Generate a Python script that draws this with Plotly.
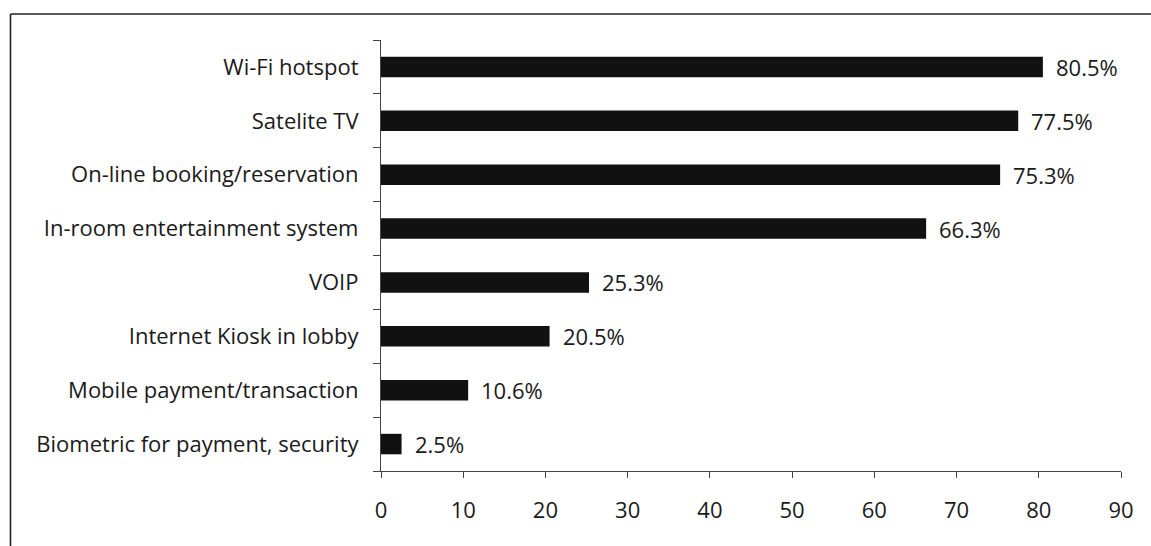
import plotly.graph_objects as go

# Survey results: share of hotels offering each technology (%)
categories = [
    "Wi-Fi hotspot",
    "Satelite TV",
    "On-line booking/reservation",
    "In-room entertainment system",
    "VOIP",
    "Internet Kiosk in lobby",
    "Mobile payment/transaction",
    "Biometric for payment, security",
]
values = [80.5, 77.5, 75.3, 66.3, 25.3, 20.5, 10.6, 2.5]
x_ticks = [0, 10, 20, 30, 40, 50, 60, 70, 80, 90]

W, H = 1151, 546
ML, MR, MT, MB = 381, 30, 40, 75
PW, PH = W - ML - MR, H - MT - MB

FONT = "Open Sans"
FS = 22
TXT = "#1a1a1a"

fig = go.Figure(
    go.Bar(
        x=values,
        y=categories,
        orientation="h",
        marker=dict(color="#111111", line=dict(width=0)),
        hoverinfo="skip",
    )
)

# value labels just to the right of each bar
for c, v in zip(categories, values):
    fig.add_annotation(
        x=v, y=c, text=f"{v:.1f}%", showarrow=False,
        xanchor="left", yanchor="middle", xshift=11,
        font=dict(family=FONT, size=FS, color=TXT),
    )

def px_x(p):
    return (p - ML) / PW

def px_y(p):
    return (H - MB - p) / PH

# frame lines on the left and top of the chart area
fig.add_shape(type="line", xref="paper", yref="paper",
              x0=px_x(10.5), x1=px_x(10.5), y0=px_y(14), y1=px_y(H + 2),
              line=dict(color="#222222", width=1.6))
fig.add_shape(type="line", xref="paper", yref="paper",
              x0=px_x(10.5), x1=px_x(W + 2), y0=px_y(14), y1=px_y(14),
              line=dict(color="#222222", width=1.6))

fig.update_layout(
    width=W, height=H,
    margin=dict(l=ML, r=MR, t=MT, b=MB),
    paper_bgcolor="white", plot_bgcolor="white",
    bargap=0.62,
    showlegend=False,
    font=dict(family=FONT, size=FS, color=TXT),
)
fig.update_xaxes(
    range=[0, 90], tickvals=x_ticks, ticktext=[str(t) for t in x_ticks],
    showgrid=False, zeroline=False,
    showline=True, linecolor="#444444", linewidth=1.2,
    ticks="outside", ticklen=6, tickcolor="#444444", tickwidth=1.2,
    ticklabelstandoff=13,
    tickfont=dict(family=FONT, size=FS, color=TXT),
)
fig.update_yaxes(
    categoryorder="array", categoryarray=categories[::-1],
    showgrid=False, zeroline=False,
    showline=True, linecolor="#444444", linewidth=1.2,
    ticks="outside", tickson="boundaries", ticklen=7,
    tickcolor="#444444", tickwidth=1.2,
    ticklabelstandoff=17,
    tickfont=dict(family=FONT, size=FS, color=TXT),
)

fig.write_html("out.html")
